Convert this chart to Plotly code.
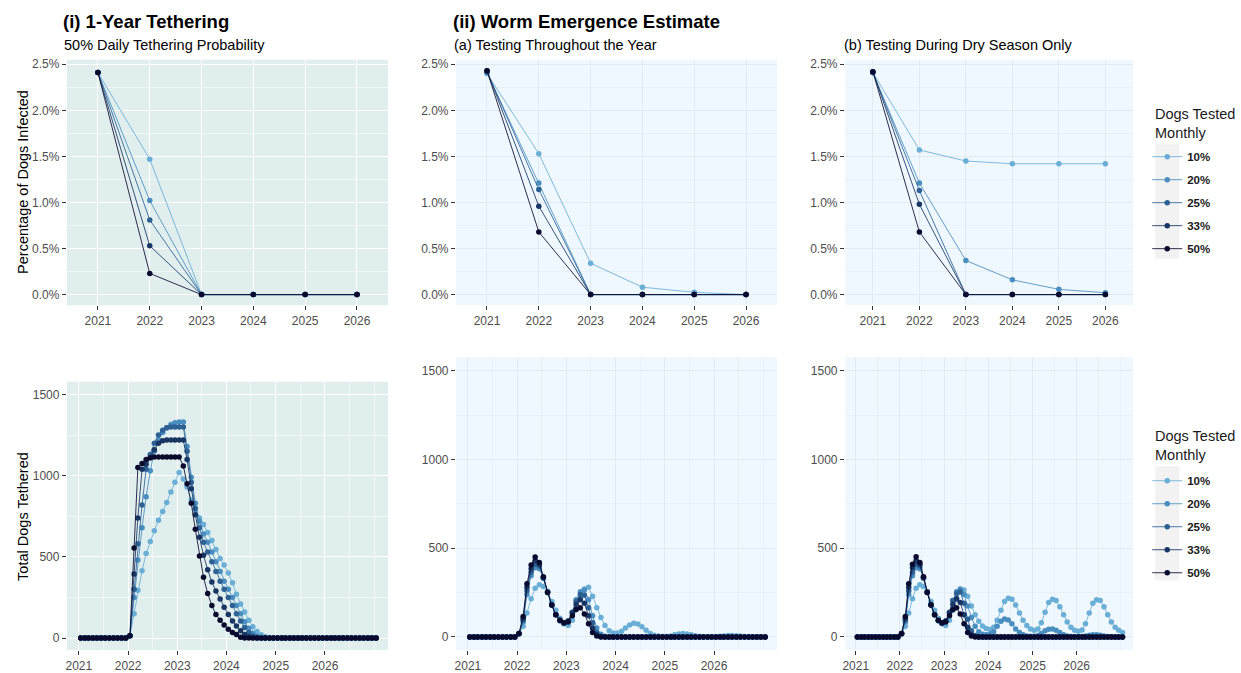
import plotly.graph_objects as go
import pandas as pd

# ---------------- data ----------------
years = [2021, 2022, 2023, 2024, 2025, 2026]
year_labels = ["2021", "2022", "2023", "2024", "2025", "2026"]
groups = ["10%", "20%", "25%", "33%", "50%"]
group_colors = ["#6AAED6", "#4A8DBF", "#2D6194", "#183563", "#0A0A2E"]

# (i) tethering: percentage of dogs infected (annual)
teth_prev_10 = [2.41, 1.47, 0.0, 0.0, 0.0, 0.0]
teth_prev_20 = [2.41, 1.02, 0.0, 0.0, 0.0, 0.0]
teth_prev_25 = [2.41, 0.81, 0.0, 0.0, 0.0, 0.0]
teth_prev_33 = [2.41, 0.53, 0.0, 0.0, 0.0, 0.0]
teth_prev_50 = [2.41, 0.23, 0.0, 0.0, 0.0, 0.0]

# (ii)(a) testing throughout the year
emer_a_prev_10 = [2.40, 1.53, 0.34, 0.08, 0.025, 0.0]
emer_a_prev_20 = [2.41, 1.21, 0.0, 0.0, 0.0, 0.0]
emer_a_prev_25 = [2.42, 1.14, 0.0, 0.0, 0.0, 0.0]
emer_a_prev_33 = [2.43, 0.96, 0.0, 0.0, 0.0, 0.0]
emer_a_prev_50 = [2.43, 0.68, 0.0, 0.0, 0.0, 0.0]

# (ii)(b) testing during dry season only
emer_b_prev_10 = [2.41, 1.57, 1.45, 1.42, 1.42, 1.42]
emer_b_prev_20 = [2.41, 1.21, 0.37, 0.16, 0.057, 0.02]
emer_b_prev_25 = [2.41, 1.13, 0.0, 0.0, 0.0, 0.0]
emer_b_prev_33 = [2.42, 0.98, 0.0, 0.0, 0.0, 0.0]
emer_b_prev_50 = [2.42, 0.68, 0.0, 0.0, 0.0, 0.0]

# monthly dates (mid-month, Jan 2021 .. Jan 2027)
months = pd.date_range("2021-01-01", periods=73, freq="MS") + pd.Timedelta(days=14)

# (i) total dogs tethered (monthly)
teth_n_10 = [0,0,0,0,0,0,0,0,0,0,0,0,
             15,150,295,415,520,595,660,725,780,835,900,960,
             1020,980,930,850,790,740,700,650,600,545,490,450,
             400,340,270,210,160,110,70,40,20,8,2,0,
             0,0,0,0,0,0,0,0,0,0,0,0,
             0,0,0,0,0,0,0,0,0,0,0,0,
             0]
teth_n_20 = [0,0,0,0,0,0,0,0,0,0,0,0,
             15,250,480,680,870,1030,1150,1220,1265,1295,1315,1325,
             1330,1330,1180,990,830,720,640,590,530,470,410,350,
             300,250,200,150,100,60,30,12,3,0,0,0,
             0,0,0,0,0,0,0,0,0,0,0,0,
             0,0,0,0,0,0,0,0,0,0,0,0,
             0]
teth_n_25 = [0,0,0,0,0,0,0,0,0,0,0,0,
             15,300,580,820,1040,1130,1200,1250,1280,1295,1300,1300,
             1300,1300,1150,960,800,680,590,530,470,410,350,300,
             250,200,150,105,65,35,15,5,0,0,0,0,
             0,0,0,0,0,0,0,0,0,0,0,0,
             0,0,0,0,0,0,0,0,0,0,0,0,
             0]
teth_n_33 = [0,0,0,0,0,0,0,0,0,0,0,0,
             15,395,740,1040,1070,1110,1160,1200,1215,1220,1220,1220,
             1220,1220,1100,920,760,620,510,420,345,290,240,190,
             145,105,75,45,22,8,2,0,0,0,0,0,
             0,0,0,0,0,0,0,0,0,0,0,0,
             0,0,0,0,0,0,0,0,0,0,0,0,
             0]
teth_n_50 = [0,0,0,0,0,0,0,0,0,0,0,0,
             15,555,1050,1075,1100,1110,1115,1115,1115,1115,1115,1115,
             1115,1060,950,830,670,505,375,275,200,145,110,80,
             55,35,22,6,0,0,0,0,0,0,0,0,
             0,0,0,0,0,0,0,0,0,0,0,0,
             0,0,0,0,0,0,0,0,0,0,0,0,
             0]

# (ii)(a) dogs tethered, testing throughout the year
emer_a_n_10 = [0,0,0,0,0,0,0,0,0,0,0,0,
               15,60,135,215,275,295,285,255,200,150,105,75,
               65,95,155,215,270,280,230,165,110,65,35,22,
               22,32,50,68,78,73,58,38,20,10,5,3,
               3,6,12,17,19,17,12,7,3,1,1,1,
               2,4,6,8,8,7,5,3,1,0,0,0,
               0]
emer_a_n_20 = [0,0,0,0,0,0,0,0,0,0,0,0,
               18,85,240,345,390,385,330,255,185,128,92,76,
               88,140,210,255,265,210,120,50,15,4,0,0,
               0,0,0,0,0,0,0,0,0,0,0,0,
               0,0,0,0,0,0,0,0,0,0,0,0,
               0,0,0,0,0,0,0,0,0,0,0,0,
               0]
emer_a_n_25 = [0,0,0,0,0,0,0,0,0,0,0,0,
               18,95,260,365,410,400,335,255,180,125,92,78,
               90,140,200,240,235,165,80,25,5,0,0,0,
               0,0,0,0,0,0,0,0,0,0,0,0,
               0,0,0,0,0,0,0,0,0,0,0,0,
               0,0,0,0,0,0,0,0,0,0,0,0,
               0]
emer_a_n_33 = [0,0,0,0,0,0,0,0,0,0,0,0,
               20,105,280,385,430,410,335,250,180,125,95,80,
               90,135,185,210,190,120,50,12,2,0,0,0,
               0,0,0,0,0,0,0,0,0,0,0,0,
               0,0,0,0,0,0,0,0,0,0,0,0,
               0,0,0,0,0,0,0,0,0,0,0,0,
               0]
emer_a_n_50 = [0,0,0,0,0,0,0,0,0,0,0,0,
               20,115,300,405,450,420,340,250,180,125,95,80,
               85,120,155,165,130,75,25,5,0,0,0,0,
               0,0,0,0,0,0,0,0,0,0,0,0,
               0,0,0,0,0,0,0,0,0,0,0,0,
               0,0,0,0,0,0,0,0,0,0,0,0,
               0]

# (ii)(b) dogs tethered, testing during dry season only
emer_b_n_10 = [0,0,0,0,0,0,0,0,0,0,0,0,
               15,60,135,215,275,295,285,255,200,150,105,75,
               65,95,150,210,255,265,230,175,125,88,62,48,
               42,55,95,150,200,218,212,180,135,95,65,45,
               38,45,80,140,195,212,205,170,125,85,55,38,
               32,40,75,135,190,210,205,170,125,85,55,38,
               26]
emer_b_n_20 = [0,0,0,0,0,0,0,0,0,0,0,0,
               18,85,240,345,390,385,330,255,185,128,92,76,
               88,140,205,255,270,240,175,110,60,30,15,12,
               15,30,60,88,102,96,75,45,25,12,6,4,
               4,8,20,35,44,45,38,25,12,6,3,2,
               2,3,6,10,13,13,10,6,3,1,0,0,
               0]
emer_b_n_25 = [0,0,0,0,0,0,0,0,0,0,0,0,
               18,95,260,365,410,400,335,255,180,125,92,78,
               90,140,205,245,255,190,100,35,8,2,0,0,
               0,0,0,0,0,0,0,0,0,0,0,0,
               0,0,0,0,0,0,0,0,0,0,0,0,
               0,0,0,0,0,0,0,0,0,0,0,0,
               0]
emer_b_n_33 = [0,0,0,0,0,0,0,0,0,0,0,0,
               20,105,280,390,430,410,335,250,180,125,95,80,
               90,135,185,215,195,125,55,14,3,0,0,0,
               0,0,0,0,0,0,0,0,0,0,0,0,
               0,0,0,0,0,0,0,0,0,0,0,0,
               0,0,0,0,0,0,0,0,0,0,0,0,
               0]
emer_b_n_50 = [0,0,0,0,0,0,0,0,0,0,0,0,
               20,115,300,410,452,420,340,250,180,125,95,80,
               85,120,155,165,130,75,25,5,0,0,0,0,
               0,0,0,0,0,0,0,0,0,0,0,0,
               0,0,0,0,0,0,0,0,0,0,0,0,
               0,0,0,0,0,0,0,0,0,0,0,0,
               0]

# ---------------- figure ----------------
W, H = 1241, 673
FONT = "Liberation Sans, Arial, sans-serif"

def px_x(v):
    return v / W

def px_y(v):
    return 1 - v / H

def rgba(hexc, a):
    h = hexc.lstrip("#")
    r, g, b = int(h[0:2], 16), int(h[2:4], 16), int(h[4:6], 16)
    return f"rgba({r},{g},{b},{a})"

panels = [
    ("", (64, 386), (58, 305), years,
     [teth_prev_10, teth_prev_20, teth_prev_25, teth_prev_33, teth_prev_50], None),
    ("2", (454, 776), (58, 305), years,
     [emer_a_prev_10, emer_a_prev_20, emer_a_prev_25, emer_a_prev_33, emer_a_prev_50], None),
    ("3", (844, 1133), (58, 305), years,
     [emer_b_prev_10, emer_b_prev_20, emer_b_prev_25, emer_b_prev_33, emer_b_prev_50], "legend"),
    ("4", (64, 386), (382, 652), months,
     [teth_n_10, teth_n_20, teth_n_25, teth_n_33, teth_n_50], None),
    ("5", (454, 776), (357, 652), months,
     [emer_a_n_10, emer_a_n_20, emer_a_n_25, emer_a_n_33, emer_a_n_50], None),
    ("6", (844, 1133), (357, 652), months,
     [emer_b_n_10, emer_b_n_20, emer_b_n_25, emer_b_n_33, emer_b_n_50], "legend2"),
]

fig = go.Figure()

for pid, xd, yd, xs, series, leg in panels:
    for g, col, ys in zip(groups, group_colors, series):
        if leg:
            kw = dict(legend=leg, showlegend=True, legendgroup=f"{leg}_{g}")
        else:
            kw = dict(showlegend=False)
        fig.add_trace(go.Scatter(
            x=list(xs), y=ys, mode="lines+markers", name=f"<b>{g}</b>",
            line=dict(color=rgba(col, 0.85), width=1),
            marker=dict(color=col, size=5.5),
            xaxis="x" + pid, yaxis="y" + pid, hoverinfo="skip", **kw))

tickfont = dict(family=FONT, size=12, color="#4D4D4D")
layout = dict(
    width=W, height=H, margin=dict(l=0, r=0, t=0, b=0),
    paper_bgcolor="white", plot_bgcolor="white",
    font=dict(family=FONT, color="#1A1A1A"),
    hovermode=False,
)

bg_left = "#E0EEEE"
bg_blue = "#F0F8FF"
shapes = []
for idx, (pid, xd, yd, xs, series, leg) in enumerate(panels):
    top = idx < 3
    leftcol = pid in ("", "4")
    gridc = "white" if leftcol else "#E2EAF0"
    xa = dict(domain=[px_x(xd[0]), px_x(xd[1])], anchor="y" + pid,
              showgrid=True, gridcolor=gridc, gridwidth=1, zeroline=False,
              showline=False, ticks="outside", ticklen=4, tickcolor="#333333",
              tickfont=tickfont, fixedrange=True)
    ya = dict(domain=[px_y(yd[1]), px_y(yd[0])], anchor="x" + pid,
              showgrid=True, gridcolor=gridc, gridwidth=1, zeroline=False,
              showline=False, ticks="outside", ticklen=4, tickcolor="#333333",
              tickfont=tickfont, fixedrange=True)
    if top:
        xa.update(range=[2020.4, 2026.6], tickmode="array", tickvals=years,
                  ticktext=year_labels)
        ya.update(range=[-0.115, 2.55], tickmode="array",
                  tickvals=[0, 0.5, 1.0, 1.5, 2.0, 2.5],
                  ticktext=["0.0%", "0.5%", "1.0%", "1.5%", "2.0%", "2.5%"],
                  minor=dict(tickvals=[0.25, 0.75, 1.25, 1.75, 2.25],
                             showgrid=True, gridcolor=gridc, gridwidth=0.5,
                             ticklen=0))
    else:
        xa.update(type="date", range=["2020-10-04", "2027-04-14"], tickmode="array",
                  tickvals=[f"{y}-01-01" for y in years], ticktext=year_labels,
                  minor=dict(tickvals=[f"{y}-07-01" for y in years] + ["2027-01-01"],
                             showgrid=True, gridcolor=gridc, gridwidth=0.5,
                             ticklen=0))
        ya.update(range=[-74, 1578], tickmode="array",
                  tickvals=[0, 500, 1000, 1500],
                  ticktext=["0", "500", "1000", "1500"],
                  minor=dict(tickvals=[250, 750, 1250], showgrid=True,
                             gridcolor=gridc, gridwidth=0.5, ticklen=0))
    layout["xaxis" + pid] = xa
    layout["yaxis" + pid] = ya
    shapes.append(dict(type="rect", xref=f"x{pid} domain", yref=f"y{pid} domain",
                       x0=0, x1=1, y0=0, y1=1, line=dict(width=0),
                       fillcolor=bg_left if leftcol else bg_blue, layer="below"))

# legend key backgrounds
for (y0, y1) in [(143, 258), (467, 582)]:
    shapes.append(dict(type="rect", xref="paper", yref="paper",
                       x0=px_x(1155), x1=px_x(1179), y0=px_y(y1), y1=px_y(y0),
                       line=dict(width=0), fillcolor="#F2F2F2", layer="below"))
layout["shapes"] = shapes

leg_common = dict(xanchor="left", yanchor="top", bgcolor="rgba(0,0,0,0)",
                  font=dict(family=FONT, size=11.5, color="#1A1A1A"),
                  tracegroupgap=4, itemwidth=30)
layout["legend"] = dict(x=px_x(1147), y=px_y(141), **leg_common)
layout["legend2"] = dict(x=px_x(1147), y=px_y(467), **leg_common)

ann = []
def add_text(text, x, y, size, bold=False, angle=0, xanchor="left", yanchor="middle",
             color="#000000"):
    ann.append(dict(text=f"<b>{text}</b>" if bold else text, x=px_x(x), y=px_y(y),
                    xref="paper", yref="paper", showarrow=False, xanchor=xanchor,
                    yanchor=yanchor, textangle=angle, align="left",
                    font=dict(family=FONT, size=size, color=color)))

add_text("(i) 1-Year Tethering", 58, 20, 18.5, bold=True)
add_text("50% Daily Tethering Probability", 59, 43, 14.5)
add_text("(ii) Worm Emergence Estimate", 449, 20, 18.5, bold=True)
add_text("(a) Testing Throughout the Year", 450, 43, 14.5)
add_text("(b) Testing During Dry Season Only", 841, 43, 14.5)
add_text("Percentage of Dogs Infected", 20, 181, 14.5, angle=-90, xanchor="center")
add_text("Total Dogs Tethered", 20, 517, 14.5, angle=-90, xanchor="center")
add_text("Dogs Tested<br>Monthly", 1153, 122.5, 14.5, color="#1A1A1A")
add_text("Dogs Tested<br>Monthly", 1153, 446, 14.5, color="#1A1A1A")
layout["annotations"] = ann

fig.update_layout(**layout)
fig.write_html("out.html", config={"displayModeBar": False, "staticPlot": True},
               post_script="document.body.style.margin='0px';"
                           "document.body.style.overflow='hidden';")
